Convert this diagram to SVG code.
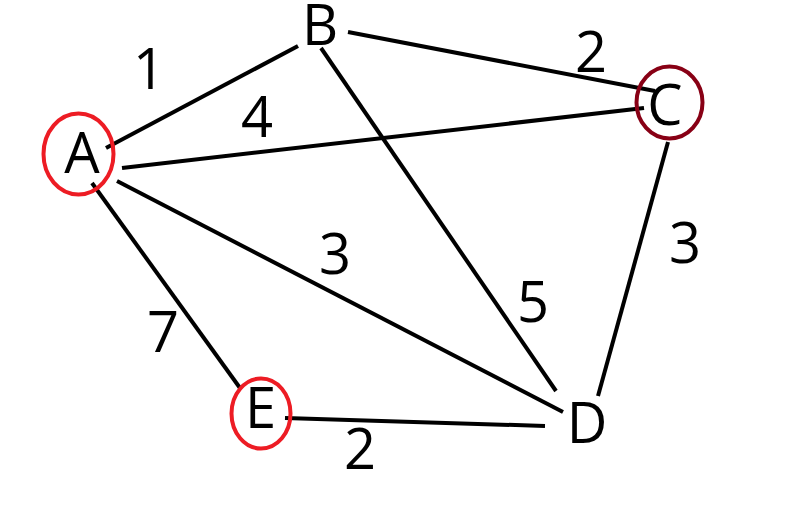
<svg xmlns="http://www.w3.org/2000/svg" width="798" height="505" viewBox="0 0 798 505">
<style>
.lbl{font-family:"Open Sans","Noto Sans","Liberation Sans",sans-serif;font-size:56px;fill:#000;text-anchor:middle}
.e line{stroke:#000;stroke-width:4;stroke-linecap:butt}
.ring{fill:none;stroke-width:4}
</style>
<rect width="798" height="505" fill="#fff"/>
<g id="connectors" class="e">
<line x1="106" y1="148" x2="298" y2="46"/>
<line x1="122" y1="168" x2="644" y2="108"/>
<line x1="348" y1="32" x2="655" y2="91"/>
<line x1="668" y1="142" x2="598" y2="396"/>
<line x1="321" y1="48" x2="556" y2="391"/>
<line x1="117" y1="181" x2="563" y2="412"/>
<line x1="92" y1="183" x2="240" y2="388"/>
<line x1="285" y1="418" x2="545" y2="426"/>
</g>
<g id="edge-labels">
<text class="lbl" x="149" y="89">1</text>
<text class="lbl" x="257" y="137">4</text>
<text class="lbl" x="591" y="72">2</text>
<text class="lbl" x="533" y="322">5</text>
<text class="lbl" x="335" y="274">3</text>
<text class="lbl" x="685" y="263">3</text>
<text class="lbl" x="163" y="352">7</text>
<text class="lbl" x="360" y="469">2</text>
</g>
<g id="node-A">
<ellipse class="ring" cx="78.5" cy="154" rx="35" ry="40.5" stroke="#ed1c24"/>
<text class="lbl" x="82" y="173">A</text>
</g>
<g id="node-B">
<text class="lbl" x="320" y="45">B</text>
</g>
<g id="node-C">
<ellipse class="ring" cx="669.5" cy="102.5" rx="33" ry="36" stroke="#880015"/>
<text class="lbl" x="665" y="125">C</text>
</g>
<g id="node-D">
<text class="lbl" x="587" y="443">D</text>
</g>
<g id="node-E">
<ellipse class="ring" cx="261" cy="413.5" rx="29.5" ry="35" stroke="#ed1c24"/>
<text class="lbl" x="260.5" y="428">E</text>
</g>
</svg>
